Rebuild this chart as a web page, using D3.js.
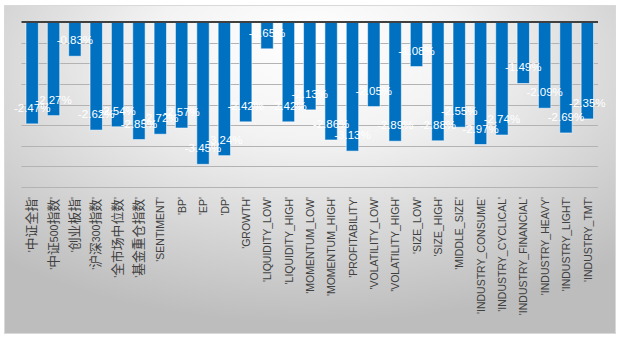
<!DOCTYPE html>
<html>
<head>
<meta charset="utf-8">
<script src="https://cdn.jsdelivr.net/npm/d3@7"></script>
<style>
  html, body { margin: 0; padding: 0; background: #ffffff; }
  svg { display: block; }
</style>
</head>
<body>
<div id="chart"></div>
<script>
// factor names along the category axis
const categories = [
  "'中证全指'", "'中证500指数'", "'创业板指'", "'沪深300指数'", "'全市场中位数'", "'基金重仓指数'",
  "'SENTIMENT'", "'BP'", "'EP'", "'DP'", "'GROWTH'",
  "'LIQUIDITY_LOW'", "'LIQUIDITY_HIGH'", "'MOMENTUM_LOW'", "'MOMENTUM_HIGH'", "'PROFITABILITY'",
  "'VOLATILITY_LOW'", "'VOLATILITY_HIGH'", "'SIZE_LOW'", "'SIZE_HIGH'", "'MIDDLE_SIZE'",
  "'INDUSTRY_CONSUME'", "'INDUSTRY_CYCLICAL'", "'INDUSTRY_FINANCIAL'", "'INDUSTRY_HEAVY'",
  "'INDUSTRY_LIGHT'", "'INDUSTRY_TMT'"
];

// returns in percent
const returns = [
  -2.47, -2.27, -0.83, -2.62, -2.54, -2.85,
  -2.72, -2.57, -3.45, -3.24, -2.42,
  -0.65, -2.42, -2.13, -2.86, -3.13,
  -2.05, -2.89, -1.08, -2.88, -2.55,
  -2.97, -2.74, -1.49, -2.09,
  -2.69, -2.35
];

// gridline values
const gridTicks = [-0.5, -1, -1.5, -2, -2.5, -3, -3.5, -4];

const width = 620, height = 340;
const plot = {left: 21.5, right: 598, top: 22, bottom: 187};

let svg = d3.select("#chart")
    .append("svg")
    .attr("width", width)
    .attr("height", height);

// soft radial background of the chart area
let defs = svg.append("defs");
let grad = defs.append("radialGradient")
    .attr("id", "bg")
    .attr("cx", "50%").attr("cy", "22%")
    .attr("r", "75%")
    .attr("fx", "50%").attr("fy", "10%");
grad.append("stop").attr("offset", "0%").attr("stop-color", "#ffffff");
grad.append("stop").attr("offset", "35%").attr("stop-color", "#f3f3f3");
grad.append("stop").attr("offset", "100%").attr("stop-color", "#bdbdbd");

svg.append("rect")
    .attr("x", 4.5).attr("y", 5.5)
    .attr("width", 611).attr("height", 328)
    .attr("fill", "url(#bg)")
    .attr("stroke", "#d9d9d9")
    .attr("stroke-width", 1);

let x = d3.scaleBand()
    .domain(categories)
    .range([plot.left, plot.right])
    .paddingInner(0.42)
    .paddingOuter(0.21);

let y = d3.scaleLinear()
    .domain([-4, 0])
    .range([plot.bottom, plot.top]);

// horizontal gridlines
svg.append("g")
    .selectAll("line")
    .data(gridTicks)
    .enter().append("line")
    .attr("x1", plot.left)
    .attr("x2", plot.right)
    .attr("y1", d => Math.round(y(d)) + 0.5)
    .attr("y2", d => Math.round(y(d)) + 0.5)
    .attr("stroke", "#b3b3b3")
    .attr("stroke-width", 1);

// bars hang down from the zero line
svg.append("g")
    .selectAll("rect")
    .data(returns)
    .enter().append("rect")
    .attr("x", (d, i) => x(categories[i]))
    .attr("y", y(0))
    .attr("width", x.bandwidth())
    .attr("height", d => y(d) - y(0))
    .attr("fill", "#0070c0")
    .attr("stroke", "#ffffff")
    .attr("stroke-opacity", 0.55)
    .attr("stroke-width", 1);

// zero line / category axis
svg.append("line")
    .attr("x1", plot.left)
    .attr("x2", plot.right)
    .attr("y1", y(0))
    .attr("y2", y(0))
    .attr("stroke", "#404040")
    .attr("stroke-width", 2);

// value labels near the end of each bar
svg.append("g")
    .selectAll("text")
    .data(returns)
    .enter().append("text")
    .attr("x", (d, i) => x(categories[i]) + x.bandwidth() / 2)
    .attr("y", d => y(d) - 16)
    .attr("dy", "0.35em")
    .attr("text-anchor", "middle")
    .style("font-family", "'Liberation Sans', Arial, sans-serif")
    .style("font-size", "11.5px")
    .attr("fill", "#ffffff")
    .text(d => d.toFixed(2) + "%");

// rotated category labels; CJK runs are set a little larger
function splitRuns(label) {
    return label.match(/[\u4e00-\u9fff]+|[^\u4e00-\u9fff]+/g);
}

let labels = svg.append("g")
    .selectAll("text")
    .data(categories)
    .enter().append("text")
    .attr("transform", d => `translate(${x(d) + x.bandwidth() / 2 + 0.5},197) rotate(-90)`)
    .attr("dy", "0.35em")
    .attr("text-anchor", "end")
    .style("font-family", "'Liberation Sans', Arial, 'Noto Sans CJK SC', sans-serif")
    .style("font-size", "10.5px")
    .attr("fill", "#404040");

labels.selectAll("tspan")
    .data(d => splitRuns(d))
    .enter().append("tspan")
    .style("font-family", s => /[\u4e00-\u9fff]/.test(s) ? "'Noto Sans CJK SC', sans-serif" : null)
    .style("font-size", s => /[\u4e00-\u9fff]/.test(s) ? "12.8px" : null)
    .text(s => s);
</script>
</body>
</html>
